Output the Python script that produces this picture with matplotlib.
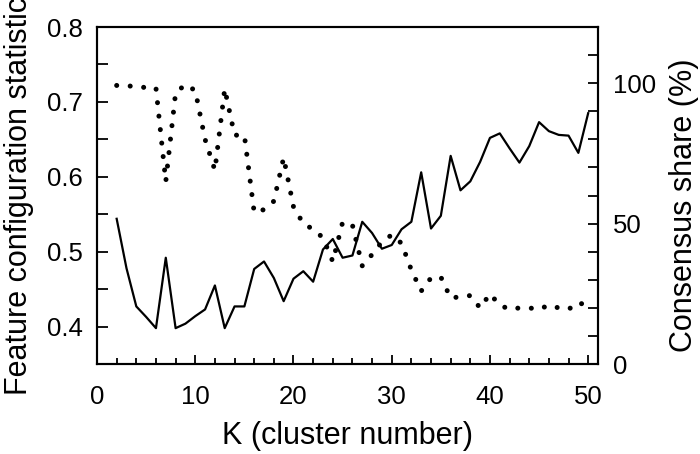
import matplotlib
matplotlib.use("Agg")
import matplotlib.pyplot as plt
from matplotlib.ticker import MultipleLocator

plt.rcParams["font.family"] = ["Liberation Sans", "DejaVu Sans"]

# K values (number of clusters)
k_values = list(range(2, 51))

# Left axis: feature configuration statistic (solid line)
feature_stat = [
    0.544, 0.478, 0.427, 0.413, 0.398, 0.492, 0.398, 0.404, 0.414, 0.423,
    0.455, 0.398, 0.427, 0.427, 0.477, 0.487, 0.465, 0.434, 0.464, 0.474,
    0.460, 0.503, 0.517, 0.492, 0.495, 0.540, 0.525, 0.504, 0.509, 0.530,
    0.540, 0.606, 0.531, 0.548, 0.628, 0.582, 0.594, 0.620, 0.652, 0.658,
    0.638, 0.619, 0.641, 0.673, 0.661, 0.656, 0.655, 0.632, 0.685,
]

# Right axis: consensus share in % (dotted line)
consensus_share = [
    99.2, 99.2, 98.6, 98.5, 98.3, 65.0, 96.6, 99.5, 97.4, 80.0,
    69.0, 98.0, 81.5, 81.5, 54.0, 55.0, 58.0, 73.5, 56.0, 50.0,
    48.0, 45.0, 36.5, 50.5, 49.5, 35.0, 39.0, 43.5, 46.0, 43.0,
    33.5, 26.0, 30.7, 31.0, 23.5, 24.0, 24.4, 20.0, 25.0, 21.0,
    19.5, 20.0, 20.0, 19.5, 21.0, 20.0, 19.5, 22.0, 20.5,
]

fig = plt.figure(figsize=(7, 4.54), dpi=100)
ax = fig.add_axes([0.1386, 0.198, 0.7157, 0.7425])
ax2 = ax.twinx()

ax.plot(k_values, feature_stat, color="black", lw=1.6)
ax2.plot(k_values, consensus_share, color="black", lw=3.6,
         linestyle=(0, (0.01, 2.7)), dash_capstyle="round")

ax.set_xlim(0, 51)
ax.set_ylim(0.35, 0.8)
ax2.set_ylim(0, 120)

ax.xaxis.set_major_locator(MultipleLocator(10))
ax.xaxis.set_minor_locator(MultipleLocator(2))
ax.yaxis.set_major_locator(MultipleLocator(0.1))
ax.yaxis.set_minor_locator(MultipleLocator(0.05))
ax2.yaxis.set_major_locator(MultipleLocator(50))
ax2.yaxis.set_minor_locator(MultipleLocator(10))

for a in (ax, ax2):
    for s in a.spines.values():
        s.set_linewidth(1.5)

ax.tick_params(axis="x", which="major", direction="in", length=6.5, width=1.3,
               labelsize=18.5, pad=15, top=False)
ax.tick_params(axis="x", which="minor", direction="in", length=4.3, width=1.3,
               top=False)
ax.tick_params(axis="y", which="both", direction="in", length=8, width=1.3,
               labelsize=18.5, pad=10)
ax2.tick_params(axis="y", which="both", direction="in", length=7, width=1.3,
                labelsize=18.5, pad=11)

ax.set_yticks([0.4, 0.5, 0.6, 0.7, 0.8])
ax.set_yticklabels(["0.4", "0.5", "0.6", "0.7", "0.8"])

ax.set_xlabel("K (cluster number)", fontsize=22, labelpad=9)
ax.set_ylabel("Feature configuration statistic", fontsize=22)
ax.yaxis.set_label_coords(-0.126, 0.5)
ax2.set_ylabel("Consensus share (%)", fontsize=22)
ax2.yaxis.set_label_coords(1.142, 0.47)

fig.savefig("out.png", dpi=100)
